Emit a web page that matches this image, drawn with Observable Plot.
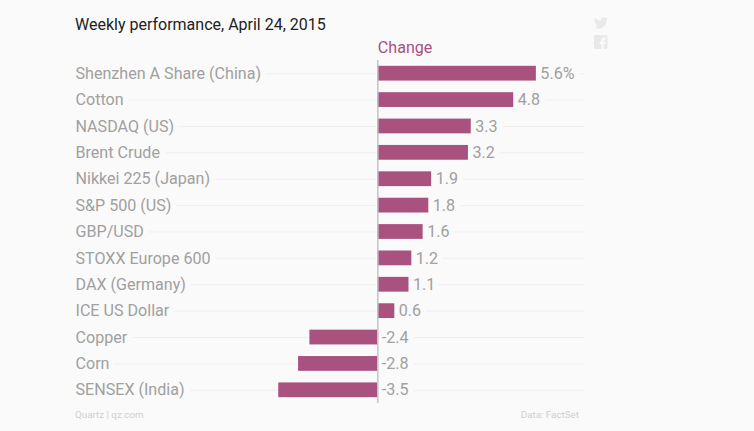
<!DOCTYPE html>
<html><head><meta charset="utf-8">
<script src="https://cdn.jsdelivr.net/npm/d3@7"></script>
<script src="https://cdn.jsdelivr.net/npm/@observablehq/plot@0.6"></script>
<style>
html,body{margin:0;padding:0;background:#fafafa;}
#wrap{position:relative;width:754px;height:431px;overflow:hidden;font-family:Roboto,sans-serif;background:#fafafa;}
#title{position:absolute;left:75px;top:14.5px;font-size:16px;color:#222;line-height:20px;white-space:nowrap;}
#chart{position:absolute;left:0;top:0;}
#src{position:absolute;left:75px;top:409px;font-size:9.8px;color:#cfcfcf;}
#data{position:absolute;right:175px;top:409px;font-size:9.8px;color:#cfcfcf;}
#icons{position:absolute;left:594px;top:15px;}
</style></head><body>
<div id="wrap">
<div id="chart"></div>
<div id="title">Weekly performance, April 24, 2015</div>
<div id="src">Quartz | qz.com</div>
<div id="data">Data: FactSet</div>
<svg id="icons" width="16" height="34" viewBox="0 0 16 34" fill="#e9e9e9">
<path transform="translate(0,1) scale(0.58)" d="M24 4.56c-.88.39-1.83.65-2.83.77 1.02-.61 1.8-1.57 2.17-2.72-.95.56-2 .97-3.13 1.19A4.92 4.92 0 0 0 11.8 8.3C7.7 8.1 4.1 6.13 1.67 3.15a4.93 4.93 0 0 0 1.52 6.57c-.8-.03-1.56-.25-2.23-.62v.06c0 2.38 1.7 4.37 3.95 4.83-.72.2-1.49.22-2.22.08.63 1.96 2.45 3.38 4.6 3.42A9.9 9.9 0 0 1 0 19.54 13.94 13.94 0 0 0 7.55 21.75c9.05 0 14-7.5 14-14 0-.21 0-.42-.02-.63A10 10 0 0 0 24 4.56z"/>
<path fill-rule="evenodd" d="M1 20h11.5a1 1 0 0 1 1 1v12a1 1 0 0 1-1 1H9.6v-5.2h1.8l.3-2.1H9.6v-1.3c0-.6.2-1 1-1h1.2v-1.9c-.2 0-.9-.1-1.7-.1-1.7 0-2.8 1-2.8 2.9v1.4H5.4v2.1h1.9V34H1a1 1 0 0 1-1-1V21a1 1 0 0 1 1-1z"/>
</svg>
</div>
<script>
const names = ["Shenzhen A Share (China)","Cotton","NASDAQ (US)","Brent Crude","Nikkei 225 (Japan)","S&P 500 (US)","GBP/USD","STOXX Europe 600","DAX (Germany)","ICE US Dollar","Copper","Corn","SENSEX (India)"];
const values = [5.6,4.8,3.3,3.2,1.9,1.8,1.6,1.2,1.1,0.6,-2.4,-2.8,-3.5];
const valueLabels = ["5.6%","4.8","3.3","3.2","1.9","1.8","1.6","1.2","1.1","0.6","-2.4","-2.8","-3.5"];
const xDomain = [-10.68,7.30];
const rows = names.map((name,i)=>({name,value:values[i],label:valueLabels[i]}));
const bg = "#fafafa", grey = "#a0a0a0", purple = "#a9517f";
const chart = Plot.plot({
  width:754, height:431, marginLeft:75, marginRight:170, marginTop:60, marginBottom:28,
  style:{background:"transparent",fontFamily:"Roboto,sans-serif"},
  x:{domain:xDomain,axis:null},
  y:{domain:names,axis:null,paddingInner:0.44,paddingOuter:0.22,round:false},
  marks:[
    Plot.ruleY(rows,{y:"name",x1:xDomain[0],x2:xDomain[1],stroke:"#efefef",strokeWidth:1}),
    Plot.text(rows,{x:xDomain[0],y:"name",text:"name",textAnchor:"start",fontSize:16.1,fill:grey,stroke:bg,strokeWidth:12,paintOrder:"stroke"}),
    Plot.text(rows,{x:d=>Math.max(d.value,0),y:"name",text:"label",textAnchor:"start",dx:4,fontSize:16.1,fill:grey,stroke:bg,strokeWidth:12,paintOrder:"stroke"}),
    Plot.barX(rows,{x1:0,x2:"value",y:"name",fill:purple}),
    Plot.ruleX([0],{stroke:"#c4c4c4",strokeWidth:1.5}),
    Plot.text(["Change"],{x:0,frameAnchor:"top",textAnchor:"start",dy:-19,fontSize:16.1,fill:purple})
  ]
});
document.getElementById("chart").append(chart);
</script>
</body></html>
